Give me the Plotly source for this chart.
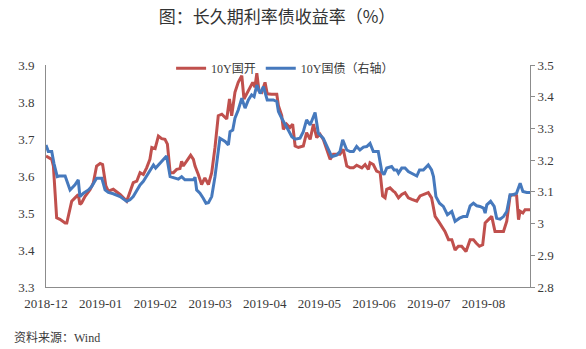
import plotly.graph_objects as go

# Trading-day index (0 = first session of Dec 2018) and yields in %
cdb_day = [0, 2.1, 2.7, 3.9, 5.1, 7.0, 7.6, 8.8, 9.4, 10.6, 11.8, 12.4, 13.0, 14.3, 16.1, 17.3,
           18.5, 19.8, 20.7, 21.9, 22.8, 24.6, 27.1, 29.5, 31.3, 31.9, 33.2, 34.4, 35.6, 36.8,
           38.0, 38.7, 39.9, 41.1, 42.3, 43.5, 44.4, 45.4, 46.6, 47.8, 49.0, 49.6, 50.2, 51.5,
           52.9, 53.9, 54.5, 55.7, 56.9, 58.1, 59.4, 60.6, 61.8, 63.0, 64.3, 66.1, 67.1, 67.9,
           69.1, 70.3, 71.6, 72.4, 74.0, 75.6, 76.4, 77.1, 77.9, 78.9, 80.1, 80.9, 82.5, 84.4,
           85.0, 86.2, 86.8, 88.0, 89.2, 90.2, 91.1, 92.3, 94.1, 95.3, 96.6, 97.8, 99.0, 100.2,
           101.4, 102.7, 103.9, 105.1, 107.5, 108.7, 110.0, 111.2, 112.4, 113.6, 115.5, 116.7,
           117.9, 118.5, 119.7, 120.9, 122.2, 123.1, 124.0, 124.6, 125.8, 127.0, 127.6, 128.9,
           130.1, 131.3, 132.5, 133.8, 135.6, 136.8, 138.0, 139.8, 141.0, 142.3, 143.5, 144.7,
           145.9, 147.2, 148.4, 149.6, 150.8, 152.0, 153.6, 155.1, 156.3, 157.3, 158.5, 159.7,
           160.6, 161.8, 163.0, 164.2, 165.4, 167.3, 168.5, 169.7, 170.9, 172.1, 172.8, 173.4,
           174.4, 175.2, 177.0]
cdb_10y = [3.654, 3.645, 3.627, 3.487, 3.483, 3.473, 3.473, 3.509, 3.532, 3.541, 3.550, 3.523,
           3.527, 3.545, 3.563, 3.581, 3.627, 3.634, 3.631, 3.573, 3.559, 3.564, 3.550, 3.532,
           3.573, 3.582, 3.586, 3.609, 3.604, 3.622, 3.645, 3.677, 3.674, 3.708, 3.701, 3.699,
           3.686, 3.609, 3.609, 3.618, 3.620, 3.640, 3.627, 3.640, 3.656, 3.645, 3.627, 3.604,
           3.577, 3.595, 3.577, 3.609, 3.677, 3.763, 3.767, 3.754, 3.808, 3.763, 3.826, 3.853,
           3.871, 3.808, 3.830, 3.853, 3.840, 3.878, 3.830, 3.826, 3.853, 3.822, 3.821, 3.821,
           3.790, 3.763, 3.726, 3.740, 3.731, 3.740, 3.681, 3.677, 3.681, 3.717, 3.699, 3.740,
           3.704, 3.713, 3.699, 3.672, 3.645, 3.659, 3.659, 3.672, 3.627, 3.622, 3.622, 3.629,
           3.622, 3.631, 3.618, 3.636, 3.631, 3.613, 3.609, 3.546, 3.541, 3.564, 3.568, 3.559,
           3.556, 3.541, 3.550, 3.555, 3.541, 3.537, 3.532, 3.546, 3.550, 3.555, 3.541, 3.491,
           3.478, 3.464, 3.450, 3.428, 3.428, 3.400, 3.410, 3.410, 3.396, 3.428, 3.428, 3.419,
           3.410, 3.414, 3.473, 3.482, 3.491, 3.450, 3.450, 3.450, 3.478, 3.546, 3.550, 3.547,
           3.482, 3.505, 3.500, 3.509, 3.509]

cgb_day = [0, 0.85, 2.1, 2.9, 4.1, 4.9, 7.0, 8.2, 8.8, 10.6, 11.8, 12.4, 13.7, 15.5, 16.7,
           18.5, 20.4, 21.6, 22.8, 24.6, 27.1, 29.5, 30.7, 31.9, 34.4, 35.6, 37.4, 39.3, 40.1,
           41.1, 42.9, 44.1, 45.4, 47.2, 48.4, 49.6, 50.8, 53.9, 54.5, 55.1, 56.3, 57.5, 58.5,
           59.4, 60.6, 61.8, 63.6, 65.5, 66.7, 67.3, 68.3, 69.1, 70.3, 71.6, 72.8, 74.0, 75.2,
           76.1, 77.1, 78.3, 79.5, 80.9, 83.1, 84.4, 85.0, 86.2, 87.4, 88.6, 89.9, 91.1, 92.9,
           94.1, 95.3, 96.6, 98.4, 99.6, 101.4, 102.7, 104.5, 106.3, 107.5, 108.5, 110.0, 111.2,
           112.4, 113.6, 114.8, 116.1, 117.3, 118.5, 119.7, 121.5, 122.8, 123.6, 124.6, 126.4,
           127.3, 128.3, 128.9, 130.1, 131.3, 132.5, 133.8, 135.6, 136.6, 138.0, 139.8, 141.0,
           141.7, 142.6, 143.9, 145.3, 146.8, 148.4, 149.6, 151.2, 152.6, 153.9, 155.1, 156.3,
           157.5, 158.7, 160.0, 160.6, 161.2, 162.6, 163.9, 164.8, 166.1, 167.3, 168.5, 169.7,
           170.9, 172.1, 173.4, 174.4, 175.8, 177.0]
cgb_10y = [3.248, 3.227, 3.227, 3.190, 3.148, 3.150, 3.150, 3.117, 3.106, 3.122, 3.138, 3.085,
           3.096, 3.106, 3.117, 3.143, 3.143, 3.106, 3.098, 3.094, 3.085, 3.070, 3.075, 3.085,
           3.122, 3.133, 3.159, 3.185, 3.175, 3.185, 3.201, 3.213, 3.148, 3.143, 3.140, 3.148,
           3.138, 3.138, 3.146, 3.106, 3.096, 3.080, 3.064, 3.066, 3.085, 3.148, 3.269, 3.259,
           3.248, 3.290, 3.295, 3.332, 3.358, 3.395, 3.364, 3.390, 3.406, 3.400, 3.437, 3.410,
           3.432, 3.390, 3.390, 3.385, 3.353, 3.332, 3.311, 3.295, 3.274, 3.266, 3.269, 3.290,
           3.327, 3.311, 3.350, 3.285, 3.269, 3.243, 3.211, 3.216, 3.227, 3.264, 3.232, 3.227,
           3.227, 3.243, 3.232, 3.241, 3.243, 3.253, 3.227, 3.227, 3.164, 3.154, 3.175, 3.180,
           3.169, 3.169, 3.159, 3.175, 3.175, 3.164, 3.157, 3.150, 3.169, 3.169, 3.185, 3.169,
           3.148, 3.085, 3.064, 3.054, 3.028, 3.038, 3.007, 3.017, 3.022, 3.022, 3.056, 3.064,
           3.056, 3.054, 3.049, 3.033, 3.059, 3.070, 3.054, 3.017, 3.014, 3.022, 3.038, 3.091,
           3.091, 3.096, 3.127, 3.101, 3.098, 3.098]

month_ticks = [0, 20, 40, 60, 80, 100, 120, 140, 160]
month_labels = ["2018-12", "2019-01", "2019-02", "2019-03", "2019-04",
                "2019-05", "2019-06", "2019-07", "2019-08"]

RED = "#C0504D"
BLUE = "#4679BD"
AXIS = "#8C8C8C"
TEXT = "#3A3A3A"
FONT = "Liberation Serif, Noto Sans CJK SC, serif"

fig = go.Figure()
fig.add_trace(go.Scatter(x=cdb_day, y=cdb_10y, mode="lines", name="10Y国开",
                         line=dict(color=RED, width=3)))
fig.add_trace(go.Scatter(x=cgb_day, y=cgb_10y, mode="lines", name="10Y国债（右轴）",
                         yaxis="y2", line=dict(color=BLUE, width=3)))

fig.update_layout(
    width=586, height=349,
    margin=dict(l=46, r=56, t=65, b=62),
    paper_bgcolor="white", plot_bgcolor="white",
    font=dict(family=FONT, size=13, color=TEXT),
    title=dict(text="图：长久期利率债收益率（%）", x=277 / 586, xanchor="center",
               y=1 - 17 / 349, yanchor="middle",
               font=dict(family="Noto Sans CJK SC", size=17, color="#333333")),
    xaxis=dict(range=[0, 177], tickvals=month_ticks, ticktext=month_labels,
               showline=True, linecolor=AXIS, linewidth=1, ticks="",
               showgrid=False, zeroline=False, tickfont=dict(size=13), ticklabelstandoff=4),
    yaxis=dict(range=[3.3, 3.9], dtick=0.1, tickformat=".1f",
               showline=True, linecolor=AXIS, linewidth=1, ticks="",
               showgrid=False, zeroline=False, tickfont=dict(size=13), ticklabelstandoff=8),
    yaxis2=dict(range=[2.8, 3.5], dtick=0.1, overlaying="y", side="right",
                showline=True, linecolor=AXIS, linewidth=1, ticks="outside", ticklen=4,
                tickcolor=AXIS, showgrid=False, zeroline=False, tickfont=dict(size=13)),
    legend=dict(orientation="h", x=0.494, xanchor="center", y=0.985, yanchor="middle",
                itemwidth=30, font=dict(size=12, color=TEXT), bgcolor="rgba(0,0,0,0)",
                tracegroupgap=0),
    showlegend=True,
)

fig.add_annotation(text="资料来源：Wind", xref="paper", yref="paper",
                   x=-34 / 484, xanchor="left", y=-(338 - 287) / 221.5, yanchor="middle",
                   showarrow=False, font=dict(family=FONT, size=12, color=TEXT))

fig.write_html("out.html")
